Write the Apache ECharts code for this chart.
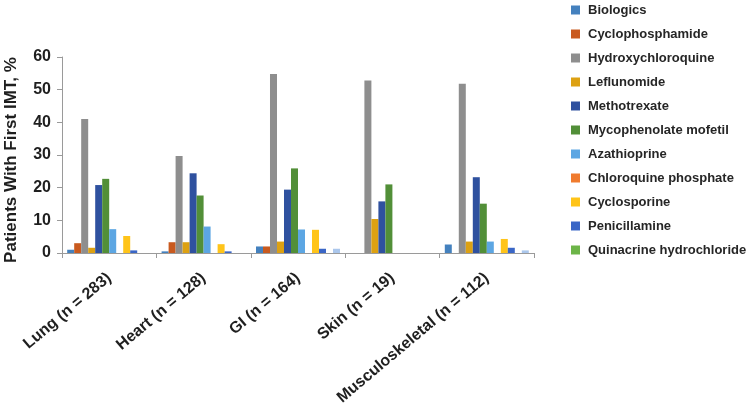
<!DOCTYPE html>
<html>
<head>
<meta charset="utf-8">
<script src="https://cdn.jsdelivr.net/npm/echarts@6/dist/echarts.min.js"></script>
<style>
html,body{margin:0;padding:0;background:#fff;}
#c{width:749px;height:408px;}
</style>
</head>
<body>
<div id="c"></div>
<script>
var categories = ['Lung (n = 283)', 'Heart (n = 128)', 'GI (n = 164)', 'Skin (n = 19)', 'Musculoskeletal (n = 112)'];
var yTicks = [0, 10, 20, 30, 40, 50, 60];

var biologics        = [1.0, 0.5, 2.0, 0, 2.6];
var cyclophosphamide = [3.0, 3.3, 2.0, 0, 0];
var hydroxychloroquine = [41.0, 29.7, 54.8, 52.8, 51.8];
var leflunomide      = [1.6, 3.3, 3.5, 10.4, 3.5];
var methotrexate     = [20.8, 24.4, 19.4, 15.8, 23.2];
var mycophenolate    = [22.7, 17.6, 25.9, 21.0, 15.1];
var azathioprine     = [7.3, 8.1, 7.2, 0, 3.5];
var chloroquine      = [0, 0, 0, 0, 0];
var cyclosporine     = [5.2, 2.7, 7.1, 0, 4.3];
var penicillamine    = [0.8, 0.5, 1.3, 0, 1.6];
var quinacrine       = [0, 0, 0, 0, 0];
var other            = [0, 0, 1.3, 0, 0.8];

var seriesDefs = [
  ['Biologics', biologics, '#4481BE'],
  ['Cyclophosphamide', cyclophosphamide, '#C95A1F'],
  ['Hydroxychloroquine', hydroxychloroquine, '#8E8E8E'],
  ['Leflunomide', leflunomide, '#DDA112'],
  ['Methotrexate', methotrexate, '#2F519F'],
  ['Mycophenolate mofetil', mycophenolate, '#528F38'],
  ['Azathioprine', azathioprine, '#5CA6E3'],
  ['Chloroquine phosphate', chloroquine, '#F07B2E'],
  ['Cyclosporine', cyclosporine, '#FFC419'],
  ['Penicillamine', penicillamine, '#3A66C6'],
  ['Quinacrine hydrochloride', quinacrine, '#6DB548'],
  ['Other', other, '#ABC7EC']
];

var legendNames = seriesDefs.slice(0, 11).map(function (d) { return d[0]; });

var series = seriesDefs.map(function (d) {
  return {
    name: d[0],
    type: 'bar',
    data: d[1],
    barGap: '0%',
    barCategoryGap: '11%',
    itemStyle: { color: d[2] }
  };
});

var chart = echarts.init(document.getElementById('c'), null, { renderer: 'canvas' });
chart.setOption({
  animation: false,
  textStyle: { fontFamily: 'Liberation Sans, Arial, sans-serif' },
  grid: { left: 62, right: 215, top: 57, bottom: 155, containLabel: false, outerBoundsMode: 'none' },
  legend: {
    data: legendNames,
    orient: 'vertical',
    left: 566,
    top: -3,
    itemWidth: 9,
    itemHeight: 9,
    itemGap: 8,
    icon: 'rect',
    textStyle: { fontSize: 13, fontWeight: 'bold', color: '#262626', lineHeight: 16, padding: [0, 0, 0, 3] }
  },
  xAxis: {
    type: 'category',
    data: categories,
    axisLine: { lineStyle: { color: '#9a9a9a', width: 1 } },
    axisTick: { show: true, length: 5, lineStyle: { color: '#9a9a9a' } },
    axisLabel: { rotate: 40, fontSize: 16, fontWeight: 'bold', color: '#1f1f1f', margin: 23, interval: 0 }
  },
  yAxis: {
    type: 'value',
    min: 0,
    max: 60,
    interval: 10,
    name: 'Patients With First IMT, %',
    nameLocation: 'middle',
    nameGap: 42,
    nameTextStyle: { fontSize: 17, fontWeight: 'bold', color: '#1f1f1f', padding: [0, 10, 0, 0] },
    axisLine: { show: true, lineStyle: { color: '#9a9a9a', width: 1 } },
    axisTick: { show: true, length: 5, lineStyle: { color: '#9a9a9a' } },
    splitLine: { show: false },
    axisLabel: {
      fontSize: 16, fontWeight: 'bold', color: '#1f1f1f', margin: 11,
      formatter: function (v) { return yTicks.indexOf(v) >= 0 ? String(v) : ''; }
    }
  },
  series: series
});
</script>
</body>
</html>
